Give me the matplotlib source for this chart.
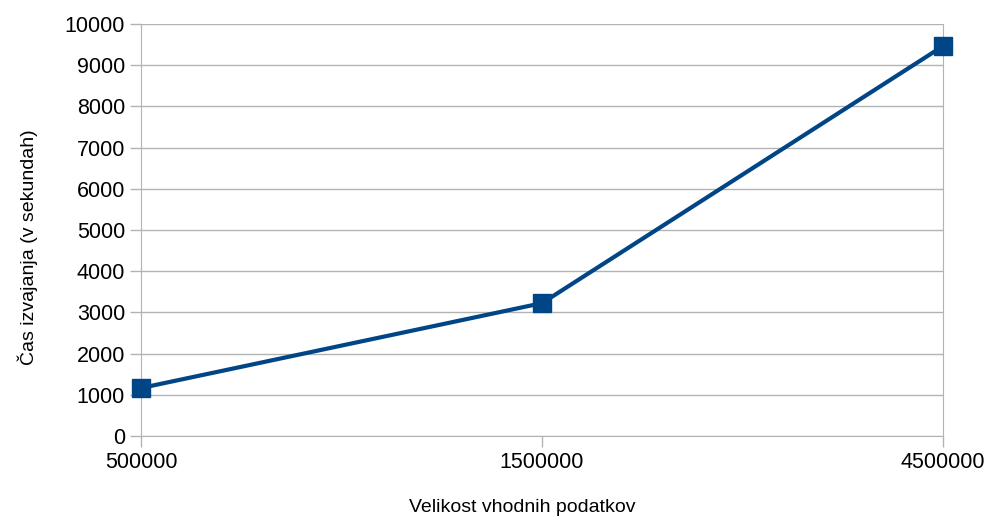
"""
Čas izvajanja glede na velikost vhodnih podatkov.
"""
import matplotlib.pyplot as plt

velikosti = ["500000", "1500000", "4500000"]
casi = [1165, 3225, 9465]

plt.rcParams['font.family'] = ['Liberation Sans', 'DejaVu Sans']

fig = plt.figure(figsize=(9.88, 5.21), dpi=100)
ax = fig.add_axes([0.1427, 0.1631, 0.8118, 0.7908])

pozicije = list(range(len(velikosti)))
ax.plot(pozicije, casi, color="#004586", linewidth=3, marker="s",
        markersize=13, clip_on=False, zorder=3)

ax.set_xlim(0, len(velikosti) - 1)
ax.set_ylim(0, 10000)
ax.set_yticks(range(0, 10001, 1000))
ax.set_xticks(pozicije)
ax.set_xticklabels(velikosti)

# samo vodoravne mrežne črte
ax.grid(True, axis="y", color="#b3b3b3", linewidth=1)
ax.spines["top"].set_visible(False)
for s in ["left", "right", "bottom"]:
    ax.spines[s].set_color("#b3b3b3")

ax.tick_params(axis="both", colors="#b3b3b3", labelcolor="black",
               labelsize=15.5, length=8, width=1)

ax.set_xlabel("Velikost vhodnih podatkov", fontsize=14)
ax.set_ylabel("Čas izvajanja (v sekundah)", fontsize=14)
ax.xaxis.set_label_coords(0.475, -0.152)
ax.yaxis.set_label_coords(-0.128, 0.459)

fig.savefig("out.png", dpi=100)
plt.close(fig)
